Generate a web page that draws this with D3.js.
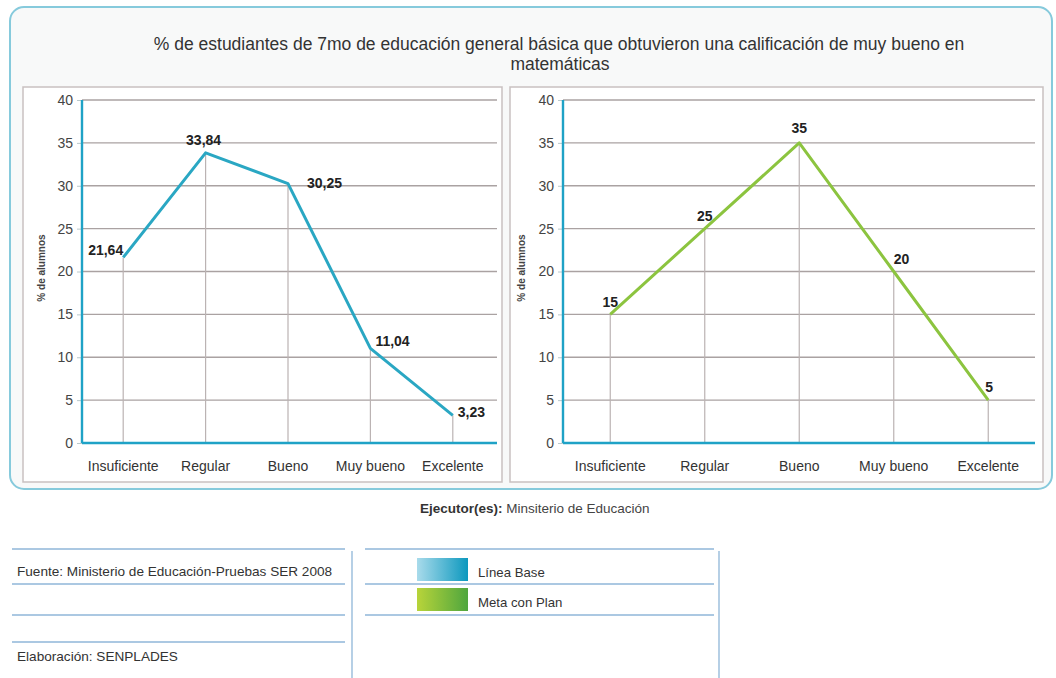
<!DOCTYPE html>
<html>
<head>
<meta charset="utf-8">
<script src="https://cdn.jsdelivr.net/npm/d3@7"></script>
<style>
  html, body { margin: 0; padding: 0; background: #fff; }
  svg { display: block; font-family: "Liberation Sans", Arial, sans-serif; }
</style>
</head>
<body>
<div id="chart"></div>
<script>
(function () {
'use strict';
// Pruebas SER 2008 — línea base vs meta, dos paneles de líneas

const categorias = ["Insuficiente", "Regular", "Bueno", "Muy bueno", "Excelente"];
const lineaBase  = [21.64, 33.84, 30.25, 11.04, 3.23];
const metaPlan   = [15, 25, 35, 20, 5];
const yTicks     = [0, 5, 10, 15, 20, 25, 30, 35, 40];

const tituloL1 = "% de estudiantes de 7mo de educación general básica que obtuvieron una calificación de muy bueno en";
const tituloL2 = "matemáticas";

const width = 1056, height = 678;

const COLOR_TEAL  = "#2aa7c3";
const COLOR_AXIS  = "#1fa2c6";
const COLOR_GREEN = "#8cc43f";
const gridColor   = "#aaa2a2";
const dropColor   = "#bbb3b3";
const textColor   = "#333";

// coma decimal
const es = d3.formatLocale({ decimal: ",", thousands: ".", grouping: [3], currency: ["$", ""] });
const fmt2 = es.format(".2f");
const fmt0 = es.format("d");

const svg = d3.select("#chart").append("svg")
  .attr("width", width).attr("height", height)
  .attr("viewBox", `0 0 ${width} ${height}`);

// caja exterior
svg.append("rect")
  .attr("x", 10).attr("y", 7).attr("width", 1042).attr("height", 482)
  .attr("rx", 14)
  .attr("fill", "#f8f9f9")
  .attr("stroke", "#86cadc").attr("stroke-width", 2);

svg.append("text")
  .attr("x", 559).attr("y", 50)
  .attr("text-anchor", "middle")
  .attr("font-size", 17.5).attr("fill", textColor)
  .text(tituloL1);
svg.append("text")
  .attr("x", 560).attr("y", 70)
  .attr("text-anchor", "middle")
  .attr("font-size", 17.5).attr("fill", textColor)
  .text(tituloL2);

const y = d3.scaleLinear().domain([0, 40]).range([443, 100]);

function drawPanel(cfg) {
  const g = svg.append("g");

  g.append("rect")
    .attr("x", cfg.box[0]).attr("y", 87)
    .attr("width", cfg.box[1] - cfg.box[0]).attr("height", 395)
    .attr("fill", "#fff")
    .attr("stroke", "#c9c1c1").attr("stroke-width", 1.5);

  const x = d3.scaleBand().domain(categorias).range([cfg.x0, cfg.x1]);
  const cx = d => x(d) + x.bandwidth() / 2;

  // rejilla horizontal
  g.selectAll("line.grid").data(yTicks.filter(t => t > 0)).join("line")
    .attr("class", "grid")
    .attr("x1", cfg.x0).attr("x2", cfg.gridEnd)
    .attr("y1", d => y(d)).attr("y2", d => y(d))
    .attr("stroke", gridColor).attr("stroke-width", 1.3);

  // eje Y
  const yAxisG = g.append("g")
    .attr("transform", `translate(${cfg.x0},0)`)
    .call(d3.axisLeft(y).tickValues(yTicks).tickSize(5).tickPadding(4));
  yAxisG.select(".domain").remove();
  yAxisG.selectAll("line").attr("stroke", "#b9c9cc");
  yAxisG.selectAll("text")
    .attr("font-size", 14).attr("fill", "#444")
    .attr("font-family", "'Liberation Sans', Arial, sans-serif");

  // líneas de caída desde cada punto
  g.selectAll("line.drop").data(cfg.values).join("line")
    .attr("class", "drop")
    .attr("x1", (d, i) => cx(categorias[i])).attr("x2", (d, i) => cx(categorias[i]))
    .attr("y1", d => y(d)).attr("y2", y(0))
    .attr("stroke", dropColor).attr("stroke-width", 1.2);

  g.append("line")
    .attr("x1", cfg.x0).attr("x2", cfg.x0)
    .attr("y1", y(40)).attr("y2", y(0))
    .attr("stroke", COLOR_AXIS).attr("stroke-width", 2.4);
  g.append("line")
    .attr("x1", cfg.x0).attr("x2", cfg.gridEnd)
    .attr("y1", y(0)).attr("y2", y(0))
    .attr("stroke", COLOR_AXIS).attr("stroke-width", 2.4);

  // eje X
  const xAxisG = g.append("g")
    .attr("transform", `translate(0,${y(0)})`)
    .call(d3.axisBottom(x).tickSize(0).tickPadding(18));
  xAxisG.select(".domain").remove();
  xAxisG.selectAll("text")
    .attr("font-size", 14).attr("fill", textColor)
    .attr("font-family", "'Liberation Sans', Arial, sans-serif");

  g.append("text")
    .attr("transform", `translate(${cfg.yLabelX},268) rotate(-90)`)
    .attr("text-anchor", "middle")
    .attr("font-size", 10).attr("font-weight", "bold").attr("fill", "#444")
    .text("% de alumnos");

  const line = d3.line()
    .x((d, i) => cx(categorias[i]))
    .y(d => y(d));

  g.append("path")
    .datum(cfg.values)
    .attr("d", line)
    .attr("fill", "none")
    .attr("stroke", cfg.color).attr("stroke-width", 3)
    .attr("stroke-linejoin", "round");

  g.selectAll("text.lbl").data(cfg.values).join("text")
    .attr("class", "lbl")
    .attr("x", (d, i) => cx(categorias[i]) + cfg.labels[i][1])
    .attr("y", (d, i) => y(d) + cfg.labels[i][2])
    .attr("text-anchor", (d, i) => cfg.labels[i][0])
    .attr("font-size", 14).attr("font-weight", "bold").attr("fill", "#222")
    .text(d => cfg.fmt(d));
}

drawPanel({
  box: [23, 502], x0: 82, x1: 494, gridEnd: 497, yLabelX: 45,
  values: lineaBase, color: COLOR_TEAL, fmt: fmt2,
  labels: [["end", 0, -2], ["middle", -2, -8], ["start", 19, 4], ["start", 5, -2], ["start", 5, 2]]
});

drawPanel({
  box: [510, 1043], x0: 563, x1: 1035.5, gridEnd: 1035, yLabelX: 525,
  values: metaPlan, color: COLOR_GREEN, fmt: fmt0,
  labels: [["middle", 0, -7], ["middle", 0, -8], ["middle", 0, -10], ["start", 0, -8], ["start", -3, -8]]
});

// pie
const pie = svg.append("text")
  .attr("x", 420).attr("y", 513)
  .attr("font-size", 13.5).attr("fill", "#444");
pie.append("tspan").attr("font-weight", "bold").attr("fill", "#333").text("Ejecutor(es):");
pie.append("tspan").text(" Minsiterio de Educación");

const ruleColor = "#8fb6d8";
[549, 584, 615, 642].forEach(yy => {
  svg.append("line").attr("x1", 12).attr("x2", 345).attr("y1", yy).attr("y2", yy)
    .attr("stroke", ruleColor).attr("stroke-width", 1.3);
});
svg.append("line").attr("x1", 352).attr("x2", 352).attr("y1", 551).attr("y2", 678)
  .attr("stroke", ruleColor).attr("stroke-width", 1.3);

svg.append("text").attr("x", 17).attr("y", 576)
  .attr("font-size", 13.6).attr("fill", "#333")
  .text("Fuente: Ministerio de Educación-Pruebas SER 2008");
svg.append("text").attr("x", 17).attr("y", 661)
  .attr("font-size", 13.6).attr("fill", "#333")
  .text("Elaboración: SENPLADES");

[549, 584, 615].forEach(yy => {
  svg.append("line").attr("x1", 365).attr("x2", 714).attr("y1", yy).attr("y2", yy)
    .attr("stroke", ruleColor).attr("stroke-width", 1.3);
});
svg.append("line").attr("x1", 719).attr("x2", 719).attr("y1", 551).attr("y2", 678)
  .attr("stroke", ruleColor).attr("stroke-width", 1.3);

// leyenda
const leyenda = [
  { nombre: "Línea Base", c0: "#a9dbeb", c1: "#0c98be" },
  { nombre: "Meta con Plan", c0: "#b8d43a", c1: "#4fa63e" }
];
const defs = svg.append("defs");
leyenda.forEach((d, i) => {
  const gr = defs.append("linearGradient").attr("id", "lg" + i)
    .attr("x1", "0%").attr("x2", "100%").attr("y1", "0%").attr("y2", "0%");
  gr.append("stop").attr("offset", "0%").attr("stop-color", d.c0);
  gr.append("stop").attr("offset", "100%").attr("stop-color", d.c1);
  const yy = 558 + i * 30;
  svg.append("rect").attr("x", 417).attr("y", yy).attr("width", 51).attr("height", 23)
    .attr("fill", `url(#lg${i})`);
  svg.append("text").attr("x", 478).attr("y", yy + 19)
    .attr("font-size", 13.2).attr("fill", "#333")
    .text(d.nombre);
});
})();
</script>
</body>
</html>
